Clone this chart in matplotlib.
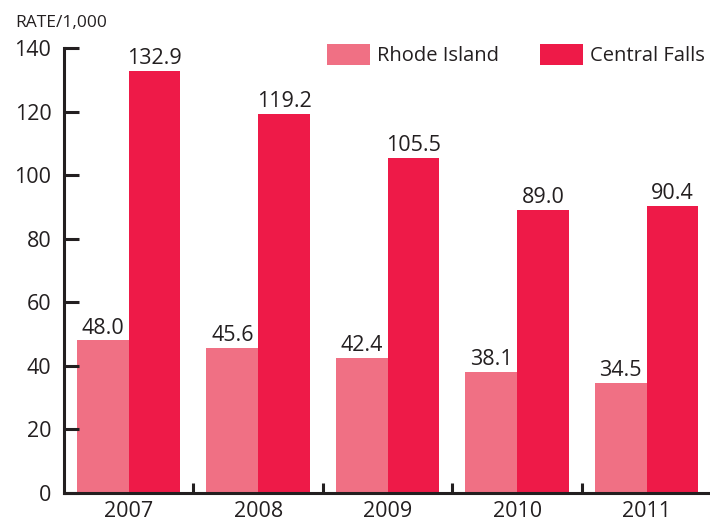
import matplotlib.pyplot as plt
import numpy as np
from matplotlib.patches import Patch

plt.rcParams['font.family'] = ['Open Sans', 'DejaVu Sans']

years = ['2007', '2008', '2009', '2010', '2011']
rhode_island = [48.0, 45.6, 42.4, 38.1, 34.5]
central_falls = [132.9, 119.2, 105.5, 89.0, 90.4]
y_ticks = [0, 20, 40, 60, 80, 100, 120, 140]

c_ri = '#F07084'
c_cf = '#EE1A48'
ink = '#231F20'
fs = 15.5

fig = plt.figure(figsize=(7.1, 5.31), dpi=100)
ax = fig.add_axes([0.090, 0.0716, 0.912, 0.838])

x = np.arange(len(years))
w = 0.4
ax.bar(x - w / 2, rhode_island, width=w, color=c_ri, linewidth=0)
ax.bar(x + w / 2, central_falls, width=w, color=c_cf, linewidth=0)

for xi, v in zip(x - w / 2, rhode_island):
    ax.text(xi, v + 0.6, f'{v:.1f}', ha='center', va='bottom', fontsize=fs, color=ink)
for xi, v in zip(x + w / 2, central_falls):
    ax.text(xi, v + 0.6, f'{v:.1f}', ha='center', va='bottom', fontsize=fs, color=ink)

ax.set_xlim(-0.5, len(years) - 0.5)
ax.set_ylim(0, 140)
ax.set_yticks(y_ticks)
ax.set_yticklabels([str(t) for t in y_ticks], fontsize=fs, color=ink)
ax.tick_params(axis='y', direction='in', length=11, width=2.2, color=ink, pad=9)

ax.set_xticks(x)
ax.set_xticklabels(years, fontsize=fs, color=ink)
ax.tick_params(axis='x', length=0, pad=6)
ax.set_xticks(np.arange(len(years) - 1) + 0.5, minor=True)
ax.tick_params(axis='x', which='minor', direction='in', length=7.5, width=2.2, color=ink)

for s in ['top', 'right']:
    ax.spines[s].set_visible(False)
for s in ['left', 'bottom']:
    ax.spines[s].set_linewidth(2.2)
    ax.spines[s].set_color(ink)

fig.text(0.022, 0.957, 'RATE/1,000', fontsize=12.5, color=ink, ha='left', va='center')

handles = [Patch(facecolor=c_ri, edgecolor='none'), Patch(facecolor=c_cf, edgecolor='none')]
fig.legend(handles, ['Rhode Island', 'Central Falls'], loc='center left',
           bbox_to_anchor=(0.435, 0.896), ncol=2, frameon=False, fontsize=14.5,
           handlelength=2.15, handleheight=1.25, handletextpad=0.35, columnspacing=2.0,
           labelcolor=ink)

fig.savefig('out.png', dpi=100)
